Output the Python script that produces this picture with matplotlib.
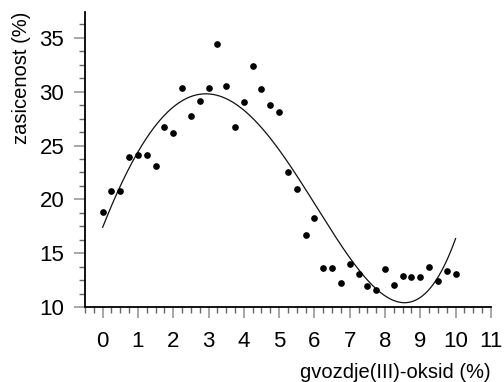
import matplotlib.pyplot as plt
import numpy as np
from matplotlib.ticker import MultipleLocator

plt.rcParams['font.family'] = ['Liberation Sans', 'DejaVu Sans']

# gvozdje(III)-oksid (%)
oxide = [0, 0.25, 0.5, 0.75, 1, 1.25, 1.5, 1.75, 2, 2.25, 2.5, 2.75, 3, 3.25,
         3.5, 3.75, 4, 4.25, 4.5, 4.75, 5, 5.25, 5.5, 5.75, 6, 6.25, 6.5, 6.75,
         7, 7.25, 7.5, 7.75, 8, 8.25, 8.5, 8.75, 9, 9.25, 9.5, 9.75, 10]
# zasicenost (%)
saturation = [18.8, 20.8, 20.8, 23.9, 24.1, 24.1, 23.1, 26.7, 26.2, 30.3,
              27.7, 29.1, 30.3, 34.4, 30.5, 26.7, 29.0, 32.4, 30.25, 28.8,
              28.15, 22.5, 21.0, 16.7, 18.3, 13.65, 13.65, 12.2, 13.95, 13.1,
              11.95, 11.6, 13.5, 12.05, 12.9, 12.8, 12.8, 13.7, 12.4, 13.35,
              13.05]

fig, ax = plt.subplots(figsize=(5.04, 3.82), dpi=100)
fig.subplots_adjust(left=0.1687, right=0.974, bottom=0.1963, top=0.9686)

ax.plot(oxide, saturation, 'o', color='black', markersize=3.8, zorder=3)

# 4th degree polynomial trend line fitted to the points
coef = np.polyfit(oxide, saturation, 4)
xs = np.linspace(0, 10, 300)
ax.plot(xs, np.polyval(coef, xs), color='#111111', linewidth=0.9)

ax.set_xlim(-0.5, 11)
ax.set_ylim(10, 37.4)
ax.xaxis.set_major_locator(MultipleLocator(1))
ax.xaxis.set_minor_locator(MultipleLocator(0.25))
ax.yaxis.set_major_locator(MultipleLocator(5))
ax.yaxis.set_minor_locator(MultipleLocator(1.25))

for s in ['top', 'right']:
    ax.spines[s].set_visible(False)
for s in ['left', 'bottom']:
    ax.spines[s].set_linewidth(1.3)

ax.tick_params(which='major', length=8, width=1.3, color='#a0a0a0',
               labelsize=16)
ax.tick_params(axis='x', which='major', pad=9)
ax.tick_params(axis='y', which='major', pad=7)
ax.tick_params(which='minor', length=4, width=1, color='#666666')

ax.set_xlabel('gvozdje(III)-oksid (%)', fontsize=14.5, loc='right', labelpad=8)
ax.set_ylabel('zasicenost (%)', fontsize=14.5, loc='top', labelpad=6)

fig.savefig('out.png')
